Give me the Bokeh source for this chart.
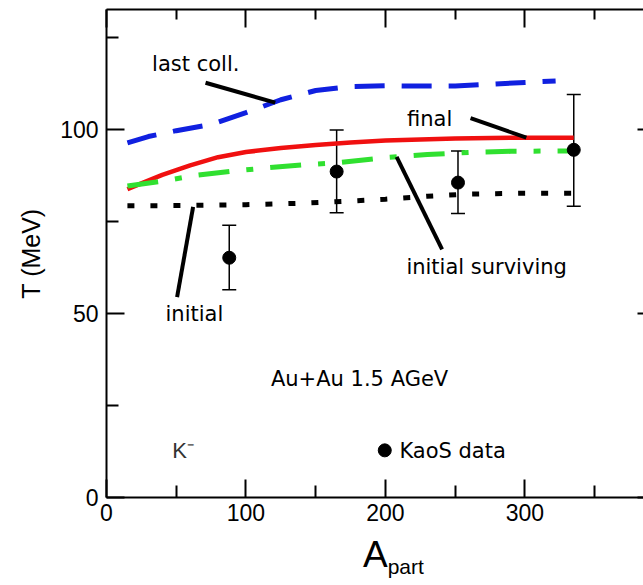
from bokeh.plotting import figure
from bokeh.models import (Range1d, FixedTicker, LinearAxis, Whisker, TeeHead,
                          ColumnDataSource, Div)
from bokeh.layouts import column
from bokeh.embed import file_html
from bokeh.resources import INLINE
from bokeh.core.properties import value

# ---------------- data ----------------
# last collision temperature (blue dashed)
last_x = [15, 30, 50, 75, 100, 125, 150, 175, 200, 225, 250, 275, 300, 322]
last_y = [96.3, 98.0, 99.6, 101.3, 104.5, 108.0, 110.5, 111.6, 111.8, 111.7, 111.7, 112.2, 112.7, 113.1]
# final (red solid)
final_x = [15, 25, 40, 60, 80, 100, 125, 150, 175, 200, 250, 300, 335]
final_y = [83.7, 85.3, 87.6, 90.2, 92.4, 93.8, 94.9, 95.7, 96.4, 96.9, 97.5, 97.7, 97.7]
# initial surviving (green dash-dot)
surv_x = [15, 40, 65, 90, 115, 140, 165, 200, 230, 260, 290, 335]
surv_y = [84.6, 85.9, 87.5, 88.6, 89.5, 90.3, 90.9, 92.3, 93.1, 93.7, 94.0, 94.1]
# initial (black dotted)
init_x = [15, 60, 100, 140, 170, 200, 230, 260, 300, 335]
init_y = [79.2, 79.3, 79.5, 79.9, 80.4, 81.0, 81.8, 82.4, 82.6, 82.6]

# KaoS data
kaos_x = [88, 165, 252, 335]
kaos_y = [65.1, 88.5, 85.5, 94.4]
kaos_lo = [56.4, 77.3, 77.1, 79.1]
kaos_hi = [73.9, 99.8, 94.1, 109.4]

# legend entry
leg_x = [199.5]
leg_y = [12.8]

# annotation texts
ann_text = ["last coll.", "final", "initial surviving", "initial", "Au+Au  1.5 AGeV", "KaoS data"]
ann_x = [32.7, 215.5, 215.0, 42.3, 117.9, 210.0]
ann_y = [117.8, 102.9, 62.7, 49.9, 32.3, 12.7]
klabel = ["K\u207b"]
klabel_x = [47.1]
klabel_y = [12.7]

# pointer lines
ptr_x0 = [71, 261, 208, 62.1]
ptr_y0 = [112.6, 103.0, 92.5, 78.9]
ptr_x1 = [121, 301, 240.6, 50.6]
ptr_y1 = [107.2, 97.7, 67.4, 54.4]

x_major = [0, 100, 200, 300]
x_minor = [50, 150, 250, 350]
y_major = [0, 50, 100]
y_minor = [25, 75, 125]

# ---------------- figure ----------------
p = figure(width=643, height=540, x_range=Range1d(0, 385), y_range=Range1d(0, 132.5),
           output_backend="svg", toolbar_location=None,
           min_border_left=106, min_border_right=0, min_border_top=9, min_border_bottom=43)
p.outline_line_color = None
p.xgrid.visible = False
p.ygrid.visible = False
p.background_fill_color = "white"
p.border_fill_color = "white"

def style_axis(ax, ticks, minor):
    ax.ticker = FixedTicker(ticks=ticks, minor_ticks=minor)
    ax.axis_line_width = 2
    ax.axis_line_color = "black"
    ax.major_tick_line_width = 2
    ax.minor_tick_line_width = 2
    ax.major_tick_line_color = "black"
    ax.minor_tick_line_color = "black"
    ax.major_tick_in = 18
    ax.major_tick_out = 0
    ax.minor_tick_in = 12
    ax.minor_tick_out = 0
    ax.major_label_text_font = "Liberation Sans"
    ax.major_label_text_font_size = "23px"
    ax.major_label_text_color = "black"

style_axis(p.xaxis[0], x_major, x_minor)
style_axis(p.yaxis[0], y_major, y_minor)
p.xaxis[0].major_label_standoff = 6
p.yaxis[0].major_label_standoff = 8
p.yaxis[0].axis_label = "T (MeV)"
p.yaxis[0].axis_label_text_font = "Liberation Sans"
p.yaxis[0].axis_label_text_font_size = "25px"
p.yaxis[0].axis_label_text_font_style = "normal"
p.yaxis[0].axis_label_text_color = "black"
p.yaxis[0].axis_label_standoff = 12

top = LinearAxis()
style_axis(top, x_major, x_minor)
top.minor_tick_in = 10
top.major_label_text_font_size = "0px"
top.major_label_standoff = 0
top.major_label_overrides = {t: "" for t in x_major}
p.add_layout(top, "above")

# right axis: only the inner ends of its ticks are inside the picture
right = LinearAxis()
style_axis(right, y_major, y_minor)
right.axis_line_color = None
right.major_tick_in = 6
right.minor_tick_in = 0
right.minor_tick_line_color = None
right.major_label_text_font_size = "0px"
right.major_label_standoff = 0
right.major_label_overrides = {t: "" for t in y_major}
p.add_layout(right, "right")

# curves
p.line(last_x, last_y, line_color="#1020e0", line_width=5, line_dash="30 17")
p.line(final_x, final_y, line_color="#f01010", line_width=4.5)
p.line(surv_x, surv_y, line_color="#30e030", line_width=5, line_dash="31 17 7 17")
p.line(init_x, init_y, line_color="black", line_width=5, line_dash="7 16")

# pointers
p.segment(x0=ptr_x0, y0=ptr_y0, x1=ptr_x1, y1=ptr_y1, line_color="black", line_width=4)

# data with error bars
src = ColumnDataSource(dict(x=kaos_x, y=kaos_y, lo=kaos_lo, hi=kaos_hi))
w = Whisker(source=src, base="x", upper="hi", lower="lo", line_width=1.5, line_color="black",
            upper_head=TeeHead(size=14, line_width=1.5, line_color="black"),
            lower_head=TeeHead(size=14, line_width=1.5, line_color="black"))
p.add_layout(w)
p.scatter(x="x", y="y", source=src, size=13, color="black")

# legend dot
p.scatter(leg_x, leg_y, size=13, color="black")

# annotation texts
p.text(x=ann_x, y=ann_y, text=ann_text, text_font=value("DejaVu Sans"),
       text_font_size=value("21px"), text_baseline="middle", text_align="left",
       text_color="black")
p.text(x=klabel_x, y=klabel_y, text=klabel, text_font=value("Liberation Sans"),
       text_font_size=value("22px"), text_baseline="middle", text_align="left",
       text_color="#333333")

# x axis title A_part as real HTML text below the plot
xlabel = Div(
    width=643, height=45,
    text=('<div style="position:relative; top:-9px; padding-left:358px; '
          'font-family:\'Liberation Sans\', Arial, sans-serif; '
          'color:black; font-size:37px; line-height:37px; white-space:nowrap;">A'
          '<span style="font-size:21px; position:relative; top:7px;">part</span></div>'))

layout = column(p, xlabel, spacing=0)

open("out.html", "w").write(file_html(layout, INLINE))
